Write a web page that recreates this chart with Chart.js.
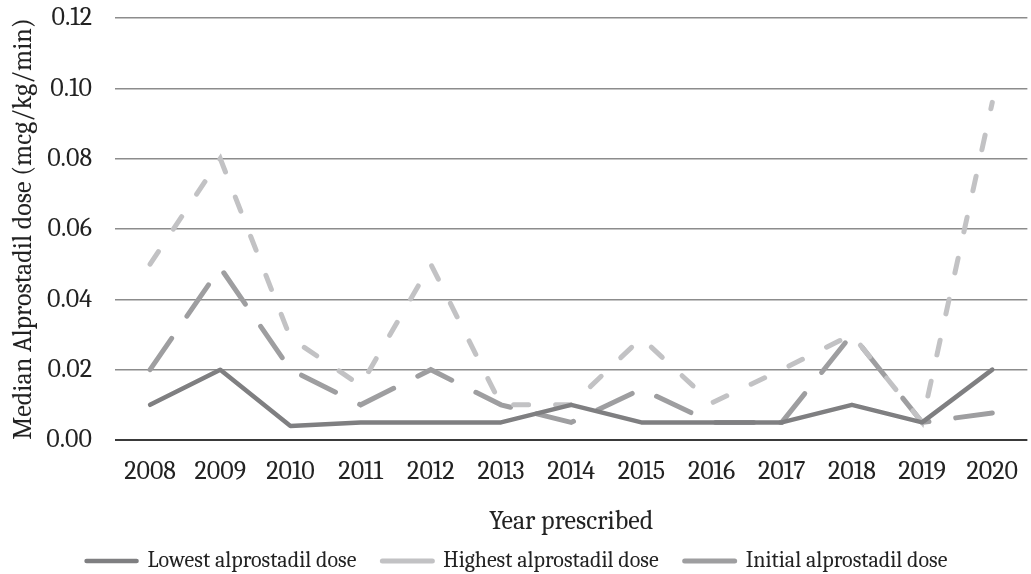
<!DOCTYPE html>
<html>
<head>
<meta charset="utf-8">
<script src="https://cdn.jsdelivr.net/npm/chart.js@4/dist/chart.umd.min.js"></script>
<style>
  html, body { margin: 0; padding: 0; background: #fff; overflow: hidden; }
  #wrap { width: 1034px; height: 582px; }
</style>
</head>
<body>
<div id="wrap"><canvas id="doseChart"></canvas></div>
<script>
const years = ['2008', '2009', '2010', '2011', '2012', '2013', '2014', '2015', '2016', '2017', '2018', '2019', '2020'];
const lowestDose = [0.01, 0.02, 0.004, 0.005, 0.005, 0.005, 0.01, 0.005, 0.005, 0.005, 0.01, 0.005, 0.02];
const highestDose = [0.05, 0.08, 0.029, 0.0155, 0.05, 0.01, 0.01, 0.029, 0.0105, 0.02, 0.03, 0.005, 0.096];
const initialDose = [0.02, 0.049, 0.02, 0.01, 0.02, 0.01, 0.005, 0.0145, 0.005, 0.005, 0.03, 0.005, 0.0077];
const yTicks = [0, 0.02, 0.04, 0.06, 0.08, 0.1, 0.12];

const serif = 'Cambria, Caladea, "DejaVu Serif", serif';

let ctx = document.getElementById('doseChart');

let myChart = new Chart(ctx, {
  type: 'line',
  data: {
    labels: years,
    datasets: [
      {
        label: 'Lowest alprostadil dose',
        data: lowestDose,
        borderColor: '#7f7f81',
        backgroundColor: '#7f7f81',
        borderWidth: 4.5,
        borderCapStyle: 'round',
        borderJoinStyle: 'round',
        pointRadius: 0,
        tension: 0,
      },
      {
        label: 'Highest alprostadil dose',
        data: highestDose,
        borderColor: '#c2c2c4',
        backgroundColor: '#c2c2c4',
        borderWidth: 5,
        borderDash: [15, 27],
        borderCapStyle: 'round',
        pointRadius: 0,
        tension: 0,
      },
      {
        label: 'Initial alprostadil dose',
        data: initialDose,
        borderColor: '#9e9ea0',
        backgroundColor: '#9e9ea0',
        borderWidth: 5,
        borderDash: [38, 27],
        borderCapStyle: 'round',
        pointRadius: 0,
        tension: 0,
      },
    ],
  },
  options: {
    responsive: true,
    maintainAspectRatio: false,
    animation: false,
    layout: { padding: { top: 18, right: 0, left: 0, bottom: 0 } },
    plugins: {
      tooltip: { enabled: false },
      legend: {
        position: 'bottom',
        labels: {
          usePointStyle: true,
          pointStyle: 'line',
          pointStyleWidth: 50,
          boxHeight: 5,
          padding: 26,
          color: '#222',
          font: { family: serif, size: 22 },
          generateLabels: (chart) => {
            const items = Chart.defaults.plugins.legend.labels.generateLabels(chart);
            items.forEach((it) => { it.pointStyle = 'line'; it.lineCap = 'round'; });
            return items;
          },
        },
      },
    },
    scales: {
      x: {
        offset: true,
        afterFit: (axis) => { axis.height = 84; },
        grid: { display: false, drawTicks: false },
        border: { display: false },
        ticks: { color: '#222', padding: 16, font: { family: serif, size: 26 } },
        title: {
          display: true,
          text: 'Year prescribed',
          color: '#222',
          font: { family: serif, size: 26 },
          padding: { top: 0, bottom: -13 },
        },
      },
      y: {
        min: 0,
        max: 0.12,
        afterBuildTicks: (axis) => { axis.ticks = yTicks.map((v) => ({ value: v })); },
        afterFit: (axis) => { axis.width = 115; },
        grid: {
          tickLength: 23,
          tickColor: 'transparent',
          color: (c) => (c.tick && c.tick.value === 0 ? '#3a3a3a' : '#8c8c8c'),
          lineWidth: (c) => (c.tick && c.tick.value === 0 ? 2 : 1.5),
        },
        border: { display: false },
        ticks: {
          color: '#222',
          padding: 0,
          font: { family: serif, size: 26 },
          callback: (v) => v.toFixed(2),
        },
        title: {
          display: true,
          text: 'Median Alprostadil dose (mcg/kg/min)',
          color: '#222',
          font: { family: serif, size: 26 },
          padding: { top: 8, bottom: 0 },
        },
      },
    },
  },
});
</script>
</body>
</html>
